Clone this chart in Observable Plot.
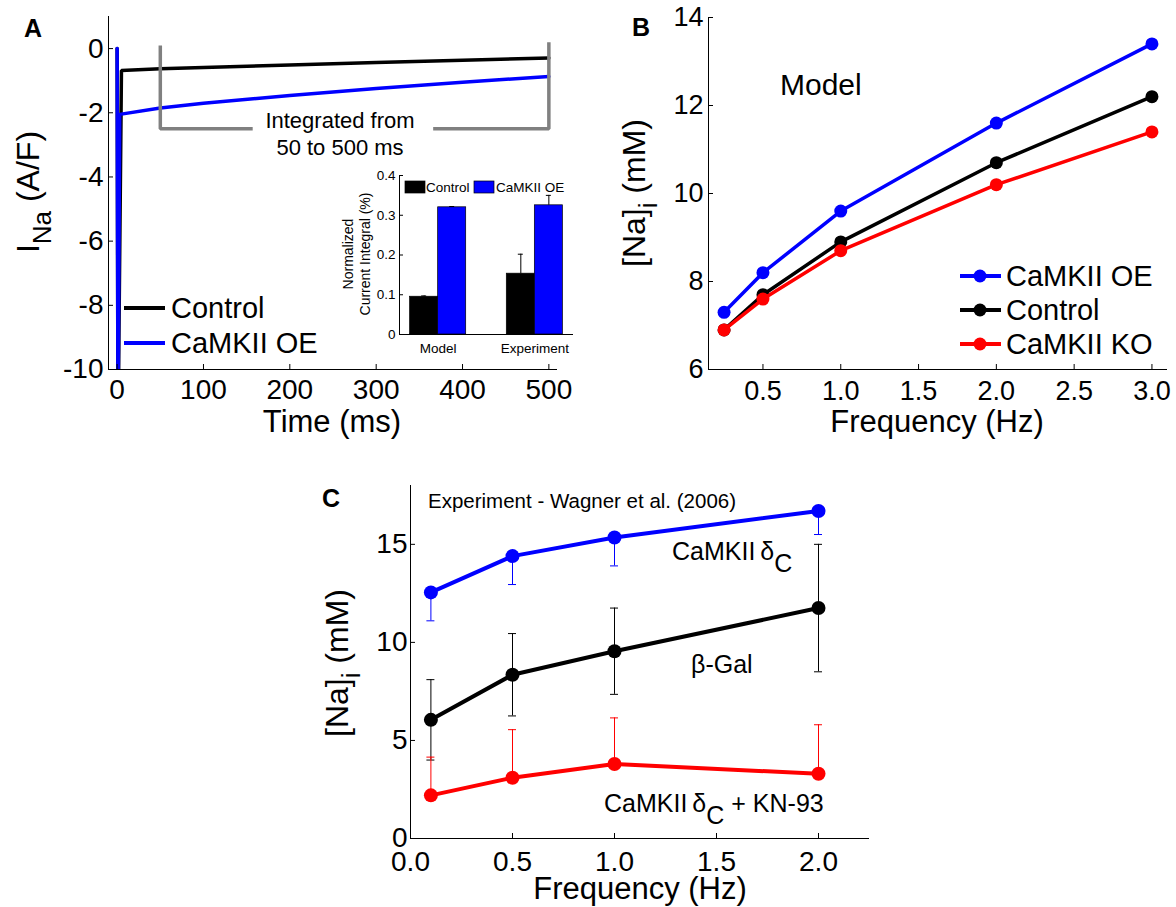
<!DOCTYPE html>
<html>
<head>
<meta charset="utf-8">
<script src="https://cdn.jsdelivr.net/npm/d3@7"></script>
<script src="https://cdn.jsdelivr.net/npm/@observablehq/plot@0.6"></script>
<style>
  html, body { margin: 0; padding: 0; background: #fff; }
  #fig { position: relative; width: 1176px; height: 907px; background: #fff; overflow: hidden; }
  #fig svg { position: absolute; }
  #fig text, #fig tspan { white-space: pre; }
</style>
</head>
<body>
<div id="fig"></div>
<script>
// ---------------- DATA ----------------
// Panel A: I_Na traces (time in ms, current in A/F)
const tControl = [0, 1, 5, 50, 100, 200, 300, 400, 500];
const iControl = [0, -12, -0.68, -0.63, -0.59, -0.51, -0.43, -0.36, -0.29];
const tOE = [0, 1, 3, 50, 100, 200, 300, 400, 500];
const iOE = [0, -12, -2.05, -1.85, -1.70, -1.46, -1.24, -1.05, -0.87];
// integration bracket (50 to 500 ms)
const bracketT = [50, 50, 157, 366, 500, 500];
const bracketV = [0.1, -2.5, -2.5, -2.5, -2.5, 0.2];
const bracketSeg = [0, 0, 0, 1, 1, 1];
const ticksAx = [0, 100, 200, 300, 400, 500];
const ticksAy = [0, -2, -4, -6, -8, -10];

// Panel A inset: normalized current integral (%)
const insetGroups = ["Model", "Experiment"];
const insetControl = [0.095, 0.153];
const insetControlErr = [0.002, 0.049];
const insetOE = [0.320, 0.325];
const insetOEErr = [0.002, 0.025];
const ticksInsetY = [0, 0.1, 0.2, 0.3, 0.4];

// Panel B: model [Na]i vs frequency
const freqB = [0.25, 0.5, 1, 2, 3];
const naB_OE = [7.3, 8.2, 9.6, 11.6, 13.4];
const naB_Control = [6.9, 7.7, 8.9, 10.7, 12.2];
const naB_KO = [6.9, 7.6, 8.7, 10.2, 11.4];
const ticksBx = [0.5, 1, 1.5, 2, 2.5, 3];
const ticksBy = [6, 8, 10, 12, 14];

// Panel C: experiment (Wagner et al. 2006)
const freqC = [0.1, 0.5, 1, 2];
const naC_CaMKII = [12.55, 14.4, 15.35, 16.7];
const semC_CaMKII = [1.45, 1.45, 1.45, 1.2];
const naC_bGal = [6.05, 8.35, 9.55, 11.75];
const semC_bGal = [2.05, 2.1, 2.2, 3.25];
const naC_KN93 = [2.2, 3.1, 3.8, 3.3];
const semC_KN93 = [1.95, 2.45, 2.35, 2.5];
const ticksCx = [0, 0.5, 1, 1.5, 2];
const ticksCy = [0, 5, 10, 15];

// ---------------- HELPERS ----------------
const FONT = '"Liberation Sans", Arial, Helvetica, sans-serif';
const BLUE = "#0000ff", RED = "#ff0000", GRAY = "#808080";
const fig = document.getElementById("fig");
function baseStyle(size) {
  return {fontFamily: FONT, fontSize: size + "px", color: "black", background: "none", overflow: "visible"};
}
function place(svg, left, top) {
  svg.style.left = left + "px";
  svg.style.top = top + "px";
  fig.appendChild(svg);
  return d3.select(svg);
}
function rich(sel, x, y, parts, {size = 32, rotate = 0, anchor = "start", weight = "normal"} = {}) {
  const t = sel.append("text")
    .attr("transform", `translate(${x},${y}) rotate(${rotate})`)
    .attr("text-anchor", anchor)
    .style("font-family", FONT)
    .style("font-size", size + "px")
    .style("font-weight", weight)
    .attr("fill", "black");
  let cur = 0;
  for (const p of parts) {
    const sp = t.append("tspan").text(p.t);
    const target = p.dy || 0;
    if (target - cur !== 0) sp.attr("dy", target - cur);
    if (p.size) sp.style("font-size", p.size + "px");
    cur = target;
  }
  return t;
}
const rows = (xs, ys, extra = {}) => xs.map((x, i) => ({x, y: ys[i], ...extra}));

// ---------------- PANEL A ----------------
const rowsAControl = rows(tControl, iControl);
const rowsAOE = rows(tOE, iOE);
const rowsBracket = bracketT.map((t, i) => ({x: t, y: bracketV[i], s: bracketSeg[i]}));

const plotA = Plot.plot({
  width: 580, height: 440,
  marginLeft: 108, marginRight: 23, marginTop: 16, marginBottom: 71,
  style: baseStyle(28),
  x: {domain: [-10, 510], label: null},
  y: {domain: [-10, 1], label: null},
  marks: [
    Plot.line(rowsAControl, {x: "x", y: "y", stroke: "black", strokeWidth: 3.5, clip: true, strokeLinejoin: "miter"}),
    Plot.line(rowsAOE, {x: "x", y: "y", stroke: BLUE, strokeWidth: 3.5, clip: true, strokeLinejoin: "miter"}),
    Plot.line(rowsBracket, {x: "x", y: "y", z: "s", stroke: GRAY, strokeWidth: 3.5, strokeLinejoin: "miter", strokeLinecap: "butt"}),
    Plot.ruleY([-10], {stroke: "black", strokeWidth: 1}),
    Plot.ruleX([-10], {stroke: "black", strokeWidth: 1}),
    Plot.axisX({ticks: ticksAx, tickSize: -5, tickPadding: 15, label: null, tickFormat: d => String(d)}),
    Plot.axisY({ticks: ticksAy, tickSize: -5, tickPadding: 10, label: null, tickFormat: d => String(d)})
  ]
});
const sA = place(plotA, 0, 0);
rich(sA, 24, 37, [{t: "A"}], {size: 25, weight: "bold"});
rich(sA, 332, 432, [{t: "Time (ms)"}], {size: 31, anchor: "middle"});
rich(sA, 39, 192, [{t: "I"}, {t: "Na", dy: 12, size: 26}, {t: " (A/F)"}], {size: 32, rotate: -90, anchor: "middle"});
rich(sA, 340, 128, [{t: "Integrated from"}], {size: 22, anchor: "middle"});
rich(sA, 340, 155, [{t: "50 to 500 ms"}], {size: 22, anchor: "middle"});
// legend A
[["Control", "black", 308], ["CaMKII OE", BLUE, 343]].forEach(([lab, col, y]) => {
  sA.append("line").attr("x1", 124).attr("x2", 165).attr("y1", y).attr("y2", y)
    .attr("stroke", col).attr("stroke-width", 4);
  rich(sA, 171, y + 10, [{t: lab}], {size: 29});
});

// ---------------- PANEL A INSET ----------------
const BW = 0.29;
const insetRows = insetGroups.flatMap((g, i) => [
  {x1: i + 1 - BW, x2: i + 1, v: insetControl[i], e: insetControlErr[i], fill: "black"},
  {x1: i + 1, x2: i + 1 + BW, v: insetOE[i], e: insetOEErr[i], fill: BLUE}
]);
const plotInset = Plot.plot({
  width: 260, height: 215,
  marginLeft: 69, marginRight: 17, marginTop: 25, marginBottom: 31,
  style: baseStyle(13.5),
  x: {domain: [0.6, 2.4], label: null},
  y: {domain: [0, 0.4], label: null},
  marks: [
    Plot.rect(insetRows.filter(d => d.fill === "black"), {x1: "x1", x2: "x2", y1: 0, y2: "v", fill: "black", stroke: "black", strokeWidth: 0.7}),
    Plot.rect(insetRows.filter(d => d.fill !== "black"), {x1: "x1", x2: "x2", y1: 0, y2: "v", fill: BLUE, stroke: "black", strokeWidth: 0.7}),
    Plot.ruleX(insetRows, {x: d => (d.x1 + d.x2) / 2, y1: "v", y2: d => d.v + d.e, stroke: "black", strokeWidth: 1}),
    Plot.ruleY(insetRows, {y: d => d.v + d.e, x1: d => (d.x1 + d.x2) / 2, x2: d => (d.x1 + d.x2) / 2, insetLeft: -2.5, insetRight: -2.5, stroke: "black", strokeWidth: 1}),
    Plot.ruleY([0], {stroke: "black", strokeWidth: 1}),
    Plot.ruleX([0.6], {stroke: "black", strokeWidth: 1}),
    Plot.axisX({ticks: [1, 2], tickFormat: d => insetGroups[d - 1], tickSize: 0, tickPadding: 9, label: null}),
    Plot.axisY({ticks: ticksInsetY, tickFormat: d => d === 0 ? "0" : d.toFixed(1), tickSize: -4, tickPadding: 8, label: null})
  ]
});
const sI = place(plotInset, 330, 150);
rich(sI, 23, 104, [{t: "Normalized"}], {size: 14, rotate: -90, anchor: "middle"});
rich(sI, 40, 104, [{t: "Current Integral (%)"}], {size: 14, rotate: -90, anchor: "middle"});
[["Control", "black", 75, 96], ["CaMKII OE", BLUE, 144, 166]].forEach(([lab, col, rx, tx]) => {
  sI.append("rect").attr("x", rx).attr("y", 31).attr("width", 20).attr("height", 12)
    .attr("fill", col).attr("stroke", "black").attr("stroke-width", 0.7);
  rich(sI, tx, 42, [{t: lab}], {size: 13.5});
});

// ---------------- PANEL B ----------------
const seriesB = [
  {name: "CaMKII OE", col: BLUE, vals: naB_OE},
  {name: "Control", col: "black", vals: naB_Control},
  {name: "CaMKII KO", col: RED, vals: naB_KO}
];
const plotB = Plot.plot({
  width: 596, height: 440,
  marginLeft: 128, marginRight: 9, marginTop: 17, marginBottom: 71,
  style: baseStyle(27),
  x: {domain: [0.15, 3.1], label: null},
  y: {domain: [6, 14], label: null},
  marks: [
    ...seriesB.flatMap(s => [
      Plot.line(rows(freqB, s.vals), {x: "x", y: "y", stroke: s.col, strokeWidth: 3.5}),
      Plot.dot(rows(freqB, s.vals), {x: "x", y: "y", fill: s.col, r: 6.5})
    ]),
    Plot.ruleY([6], {stroke: "black", strokeWidth: 1}),
    Plot.ruleX([0.15], {stroke: "black", strokeWidth: 1}),
    Plot.axisX({ticks: ticksBx, tickFormat: ".1f", tickSize: -5, tickPadding: 16, label: null}),
    Plot.axisY({ticks: ticksBy, tickFormat: d => String(d), tickSize: -5, tickPadding: 10, label: null})
  ]
});
const sB = place(plotB, 580, 0);
rich(sB, 52, 36, [{t: "B"}], {size: 25, weight: "bold"});
rich(sB, 357, 432, [{t: "Frequency (Hz)"}], {size: 31, anchor: "middle"});
rich(sB, 65, 193, [{t: "[Na]"}, {t: "i", dy: 12, size: 26}, {t: " (mM)"}], {size: 32, rotate: -90, anchor: "middle"});
rich(sB, 200, 95, [{t: "Model"}], {size: 30});
seriesB.forEach((s, i) => {
  const y = 276 + i * 34;
  sB.append("line").attr("x1", 380).attr("x2", 421).attr("y1", y).attr("y2", y)
    .attr("stroke", s.col).attr("stroke-width", 4);
  sB.append("circle").attr("cx", 400).attr("cy", y).attr("r", 6.5).attr("fill", s.col);
  rich(sB, 426, y + 10, [{t: s.name}], {size: 29});
});

// ---------------- PANEL C ----------------
const seriesC = [
  {col: BLUE, vals: naC_CaMKII, sem: semC_CaMKII, dir: "down"},
  {col: "black", vals: naC_bGal, sem: semC_bGal, dir: "both"},
  {col: RED, vals: naC_KN93, sem: semC_KN93, dir: "up"}
];
const errMarks = seriesC.flatMap(s => {
  const er = freqC.map((f, i) => ({
    x: f,
    lo: s.dir === "up" ? s.vals[i] : s.vals[i] - s.sem[i],
    hi: s.dir === "down" ? s.vals[i] : s.vals[i] + s.sem[i]
  }));
  const caps = er.flatMap(d => {
    const c = [];
    if (s.dir !== "up") c.push({x: d.x, y: d.lo});
    if (s.dir !== "down") c.push({x: d.x, y: d.hi});
    return c;
  });
  return [
    Plot.ruleX(er, {x: "x", y1: "lo", y2: "hi", stroke: s.col, strokeWidth: 1}),
    Plot.ruleY(caps, {y: "y", x1: "x", x2: "x", insetLeft: -4, insetRight: -4, stroke: s.col, strokeWidth: 1})
  ];
});
const plotC = Plot.plot({
  width: 600, height: 447,
  marginLeft: 120, marginRight: 21, marginTop: 25, marginBottom: 69,
  style: baseStyle(28),
  x: {domain: [0, 2.25], label: null},
  y: {domain: [0, 18], label: null},
  marks: [
    ...errMarks,
    ...seriesC.flatMap(s => [
      Plot.line(rows(freqC, s.vals), {x: "x", y: "y", stroke: s.col, strokeWidth: 4}),
      Plot.dot(rows(freqC, s.vals), {x: "x", y: "y", fill: s.col, r: 7})
    ]),
    Plot.ruleY([0], {stroke: "black", strokeWidth: 1}),
    Plot.ruleX([0], {stroke: "black", strokeWidth: 1}),
    Plot.axisX({ticks: ticksCx, tickFormat: ".1f", tickSize: -5, tickPadding: 18, label: null}),
    Plot.axisY({ticks: ticksCy, tickFormat: d => String(d), tickSize: -5, tickPadding: 8, label: null})
  ]
});
const sC = place(plotC, 290, 460);
rich(sC, 32, 47, [{t: "C"}], {size: 25, weight: "bold"});
rich(sC, 350, 439, [{t: "Frequency (Hz)"}], {size: 31, anchor: "middle"});
rich(sC, 58, 203, [{t: "[Na]"}, {t: "i", dy: 12, size: 26}, {t: " (mM)"}], {size: 32, rotate: -90, anchor: "middle"});
rich(sC, 138, 48, [{t: "Experiment - Wagner et al. (2006)"}], {size: 20.5});
rich(sC, 382, 100, [{t: "CaMKII\u2009δ"}, {t: "C", dy: 12}], {size: 25});
rich(sC, 401, 213, [{t: "β-Gal"}], {size: 25});
rich(sC, 314, 352, [{t: "CaMKII\u2009δ"}, {t: "C", dy: 12}, {t: " + KN-93", dy: 0}], {size: 25});
</script>
</body>
</html>
